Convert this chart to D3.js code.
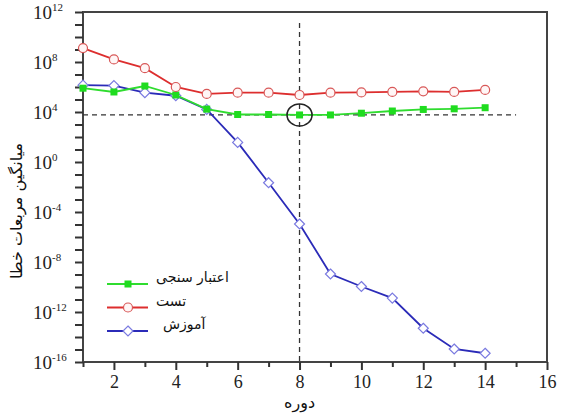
<!DOCTYPE html>
<html>
<head>
<meta charset="utf-8">
<script src="https://cdn.jsdelivr.net/npm/d3@7"></script>
<style>
  body { margin: 0; background: #fff; }
</style>
</head>
<body>
<svg width="562" height="414"></svg>
<script>
// data
var epochs = [1, 2, 3, 4, 5, 6, 7, 8, 9, 10, 11, 12, 13, 14];
var validation = [8e5, 4e5, 1.2e6, 2.3e5, 1.7e4, 6.3e3, 6.3e3, 5.8e3, 5.8e3, 8e3, 1.2e4, 1.6e4, 1.8e4, 2.2e4];
var test = [1.3e9, 1.6e8, 3.2e7, 1e6, 2.8e5, 3.5e5, 3.5e5, 2.3e5, 3.5e5, 3.7e5, 4e5, 4.5e5, 4e5, 5.8e5];
var train = [1.4e6, 1.3e6, 3.5e5, 2e5, 1.6e4, 37, 0.022, 1.1e-5, 1.1e-9, 1.1e-10, 1.3e-11, 5e-14, 1.1e-15, 5e-16];
var legendNames = ["اعتبار سنجی", "تست", "آموزش"];
var xTicks = d3.range(1, 17);
var yExponents = d3.range(-16, 13);
var bestEpoch = 8;
var hLineEnd = 15;
var vLineTop = 1.3e11;

var serif = "Liberation Serif, serif";
var farsi = "DejaVu Sans, sans-serif";

var margin = {top: 12, right: 15, bottom: 52, left: 83};
var width = 562 - margin.left - margin.right,
    height = 414 - margin.top - margin.bottom;

var svg = d3.select("svg")
  .append("g")
    .attr("transform", `translate(${margin.left}, ${margin.top})`);

// Scales
var x = d3.scaleLinear().domain([1, 16]).range([0, width]);
var y = d3.scaleLog().domain([1e-16, 1e12]).range([height, 0]);

// frame
svg.append("rect")
  .attr("width", width).attr("height", height)
  .attr("fill", "none").attr("stroke", "#444").attr("stroke-width", 2);

// x axis
var xAxis = svg.append("g")
  .attr("transform", `translate(0, ${height})`)
  .call(d3.axisBottom(x).tickValues(xTicks).tickSize(0).tickFormat(""));
xAxis.attr("font-family", serif);
xAxis.select(".domain").remove();
xAxis.selectAll(".tick line")
  .attr("y2", d => d % 2 == 0 ? 8 : 5)
  .attr("stroke", "#333").attr("stroke-width", 2);
xAxis.selectAll(".tick")
  .filter(d => d % 2 == 0)
  .append("text")
  .attr("font-family", serif).attr("font-size", 18)
  .attr("fill", "#222")
  .attr("y", 26).attr("text-anchor", "middle")
  .text(d => d);

// y axis
var yAxis = svg.append("g")
  .call(d3.axisLeft(y).tickValues(yExponents.map(e => Math.pow(10, e))).tickSize(8).tickFormat(""));
yAxis.attr("font-family", serif);
yAxis.select(".domain").remove();
yAxis.selectAll(".tick line").attr("stroke", "#333").attr("stroke-width", 2);
var lab = yAxis.selectAll(".tick")
  .filter(d => Math.round(Math.log10(d)) % 4 == 0)
  .append("text")
  .attr("font-family", serif).attr("font-size", 19)
  .attr("fill", "#222")
  .attr("x", 33 - margin.left).attr("y", 6)
  .attr("text-anchor", "start");
lab.append("tspan").text("10");
lab.append("tspan")
  .attr("dy", -8).attr("font-size", 11)
  .text(d => String(Math.round(Math.log10(d))));

// dashed guide lines
svg.append("line")
  .attr("x1", 0).attr("x2", x(hLineEnd))
  .attr("y1", y(validation[bestEpoch - 1])).attr("y2", y(validation[bestEpoch - 1]))
  .attr("stroke", "#333").attr("stroke-width", 1.3).attr("stroke-dasharray", "5,4");
svg.append("line")
  .attr("x1", x(bestEpoch)).attr("x2", x(bestEpoch))
  .attr("y1", y(vLineTop)).attr("y2", height)
  .attr("stroke", "#333").attr("stroke-width", 1.3).attr("stroke-dasharray", "5,4");

var series = [
  {name: legendNames[2], values: train, line: "#2b2bb8", mark: "diamond"},
  {name: legendNames[0], values: validation, line: "#2fdc2f", mark: "square"},
  {name: legendNames[1], values: test, line: "#dd2e2e", mark: "circle"}
];

var line = d3.line()
  .x((d, i) => x(epochs[i]))
  .y(d => y(d));

function drawMarker(g, kind) {
  if (kind == "circle") {
    g.append("circle").attr("r", 4.5)
      .attr("fill", "#fff6f6").attr("stroke", "#d85858").attr("stroke-width", 1.2);
  } else if (kind == "square") {
    g.append("rect").attr("x", -3.5).attr("y", -3.5).attr("width", 7).attr("height", 7)
      .attr("fill", "#1fdc1f");
  } else {
    g.append("path").attr("d", "M0,-5L5,0L0,5L-5,0Z")
      .attr("fill", "#fff").attr("stroke", "#7a7ae0").attr("stroke-width", 1.2);
  }
}

series.forEach(function(s) {
  svg.append("path")
    .attr("fill", "none")
    .attr("stroke", s.line)
    .attr("stroke-width", 1.8)
    .attr("d", line(s.values));
  svg.append("g").selectAll("g")
    .data(s.values)
  .enter().append("g")
    .attr("transform", (d, i) => `translate(${x(epochs[i])}, ${y(d)})`)
    .each(function() { drawMarker(d3.select(this), s.mark); });
});

// highlight circle
svg.append("ellipse")
  .attr("cx", x(bestEpoch)).attr("cy", y(validation[bestEpoch - 1]))
  .attr("rx", 12.5).attr("ry", 11)
  .attr("fill", "none").attr("stroke", "#222").attr("stroke-width", 1.6);

// legend
var legendItems = [series[1], series[2], series[0]];
var legend = svg.append("g")
  .attr("transform", `translate(${107 - margin.left}, ${284 - margin.top})`);
legendItems.forEach(function(s, i) {
  var row = legend.append("g").attr("transform", `translate(0, ${i * 23.5})`);
  row.append("line").attr("x1", 0).attr("x2", 41)
    .attr("stroke", s.line).attr("stroke-width", 1.8);
  var m = row.append("g").attr("transform", "translate(21, 0)");
  drawMarker(m, s.mark);
  row.append("text")
    .attr("font-family", farsi).attr("font-size", 14)
    .attr("fill", "#111")
    .attr("x", 49 + (i == 2 ? 7 : 0)).attr("y", -2)
    .text(s.name);
});

// axis titles
svg.append("text")
  .attr("font-family", farsi).attr("font-size", 16)
  .attr("fill", "#111")
  .attr("transform", `translate(${22 - margin.left}, ${211 - margin.top}) rotate(-90)`)
  .attr("text-anchor", "middle")
  .text("میانگین مربعات خطا");
svg.append("text")
  .attr("font-family", farsi).attr("font-size", 16)
  .attr("fill", "#111")
  .attr("x", x(8)).attr("y", height + 46)
  .attr("text-anchor", "middle")
  .text("دوره");
</script>
</body>
</html>
